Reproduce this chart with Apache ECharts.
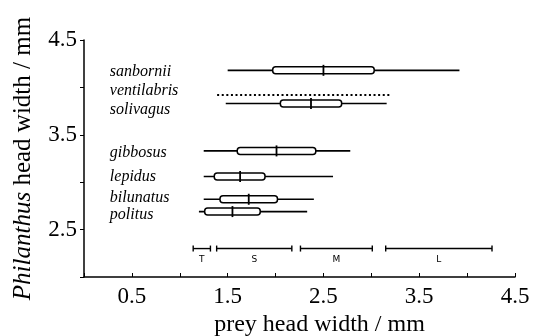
<!DOCTYPE html>
<html>
<head>
<meta charset="utf-8">
<script src="https://cdn.jsdelivr.net/npm/echarts@6/dist/echarts.min.js"></script>
<style>
  html, body { margin: 0; padding: 0; background: #fff; }
  #chart { width: 533px; height: 336px; }
</style>
</head>
<body>
<div id="chart"></div>
<script>
// species, by Philanthus head width (mm)
const species = ['sanbornii', 'ventilabris', 'solivagus', 'gibbosus', 'lepidus', 'bilunatus', 'politus']
const speciesY = [4.18, 3.92, 3.83, 3.33, 3.06, 2.82, 2.69]
const labelY = [4.16, 3.96, 3.76, 3.31, 3.06, 2.84, 2.66]
// prey head width (mm): whisker / box / median
const whiskerLo = [1.50, 1.39, 1.48, 1.25, 1.25, 1.25, 1.20]
const boxLo = [1.97, null, 2.05, 1.60, 1.36, 1.42, 1.26]
const median = [2.50, null, 2.37, 2.01, 1.63, 1.72, 1.55]
const boxHi = [3.03, null, 2.69, 2.42, 1.89, 2.02, 1.84]
const whiskerHi = [3.92, 3.20, 3.16, 2.78, 2.60, 2.40, 2.33]

// prey size classes
const classNames = ['T', 'S', 'M', 'L']
const classLo = [1.14, 1.385, 2.26, 3.15]
const classHi = [1.32, 2.17, 3.01, 4.26]
const classY = 2.30

const serif = 'Liberation Serif'

const boxData = species.map((s, i) => [whiskerLo[i], speciesY[i], whiskerHi[i], boxLo[i], median[i], boxHi[i]])
const labelData = species.map((s, i) => [0.27, labelY[i], s])
const classData = classNames.map((c, i) => [classLo[i], classY, classHi[i], c])

const chart = echarts.init(document.getElementById('chart'))

chart.setOption({
  animation: false,
  grid: { left: 84, right: 18, top: 40, bottom: 59, containLabel: false, outerBoundsMode: 'none' },
  xAxis: {
    type: 'value',
    min: 0,
    max: 4.5,
    interval: 0.5,
    name: 'prey head width / mm',
    nameLocation: 'middle',
    nameGap: 35,
    nameTextStyle: { fontFamily: serif, fontSize: 24, color: '#000', padding: [0, 0, 0, 40] },
    axisLine: { lineStyle: { color: '#000', width: 1.5 } },
    axisTick: { inside: true, length: 4, lineStyle: { color: '#000' } },
    axisLabel: {
      fontFamily: serif, fontSize: 23, color: '#000', margin: 8,
      formatter: v => (Math.round(v * 10) % 10 === 5 ? v.toFixed(1) : '')
    },
    splitLine: { show: false }
  },
  yAxis: {
    type: 'value',
    min: 2,
    max: 4.5,
    interval: 0.5,
    name: '{i|Philanthus} head width / mm',
    nameLocation: 'middle',
    nameGap: 48,
    nameTextStyle: {
      fontFamily: serif, fontSize: 25, color: '#000',
      rich: { i: { fontFamily: serif, fontSize: 25, fontStyle: 'italic', color: '#000' } }
    },
    axisLine: { show: true, lineStyle: { color: '#000', width: 1.5 } },
    axisTick: { show: true, length: 4, lineStyle: { color: '#000' } },
    axisLabel: {
      fontFamily: serif, fontSize: 23, color: '#000', margin: 7,
      formatter: v => (Math.round(v * 10) % 10 === 5 ? v.toFixed(1) : '')
    },
    splitLine: { show: false }
  },
  series: [
    {
      type: 'custom',
      data: boxData,
      renderItem: function (params, api) {
        const y = api.coord([0, api.value(1)])[1]
        const x0 = api.coord([api.value(0), 0])[0]
        const x1 = api.coord([api.value(2), 0])[0]
        const hasBox = !isNaN(api.value(3))
        const children = [{
          type: 'line',
          shape: { x1: x0, y1: y, x2: x1, y2: y },
          style: hasBox
            ? { stroke: '#000', lineWidth: 1.7 }
            : { stroke: '#000', lineWidth: 2, lineDash: [2, 2.6] }
        }]
        if (hasBox) {
          const b0 = api.coord([api.value(3), 0])[0]
          const b1 = api.coord([api.value(5), 0])[0]
          const m = api.coord([api.value(4), 0])[0]
          children.push({
            type: 'rect',
            shape: { x: b0, y: y - 3.5, width: b1 - b0, height: 7, r: 3 },
            style: { fill: '#fff', stroke: '#000', lineWidth: 1.5 }
          })
          children.push({
            type: 'line',
            shape: { x1: m, y1: y - 5.5, x2: m, y2: y + 5.5 },
            style: { stroke: '#000', lineWidth: 1.8 }
          })
        }
        return { type: 'group', children: children }
      }
    },
    {
      type: 'custom',
      data: labelData,
      renderItem: function (params, api) {
        const p = api.coord([api.value(0), api.value(1)])
        return {
          type: 'text',
          x: p[0],
          y: p[1],
          style: {
            text: labelData[params.dataIndex][2],
            font: 'italic 16px "Liberation Serif"',
            fill: '#000',
            align: 'left',
            verticalAlign: 'middle'
          }
        }
      }
    },
    {
      type: 'custom',
      data: classData,
      renderItem: function (params, api) {
        const y = api.coord([0, api.value(1)])[1]
        const x0 = api.coord([api.value(0), 0])[0]
        const x1 = api.coord([api.value(2), 0])[0]
        const st = { stroke: '#000', lineWidth: 1.4 }
        return {
          type: 'group',
          children: [
            { type: 'line', shape: { x1: x0, y1: y, x2: x1, y2: y }, style: st },
            { type: 'line', shape: { x1: x0, y1: y - 3, x2: x0, y2: y + 3 }, style: st },
            { type: 'line', shape: { x1: x1, y1: y - 3, x2: x1, y2: y + 3 }, style: st },
            {
              type: 'text',
              x: (x0 + x1) / 2,
              y: y + 11,
              style: {
                text: classData[params.dataIndex][3],
                font: '9px "DejaVu Sans"',
                fill: '#000',
                align: 'center',
                verticalAlign: 'middle'
              }
            }
          ]
        }
      }
    }
  ]
})
</script>
</body>
</html>
